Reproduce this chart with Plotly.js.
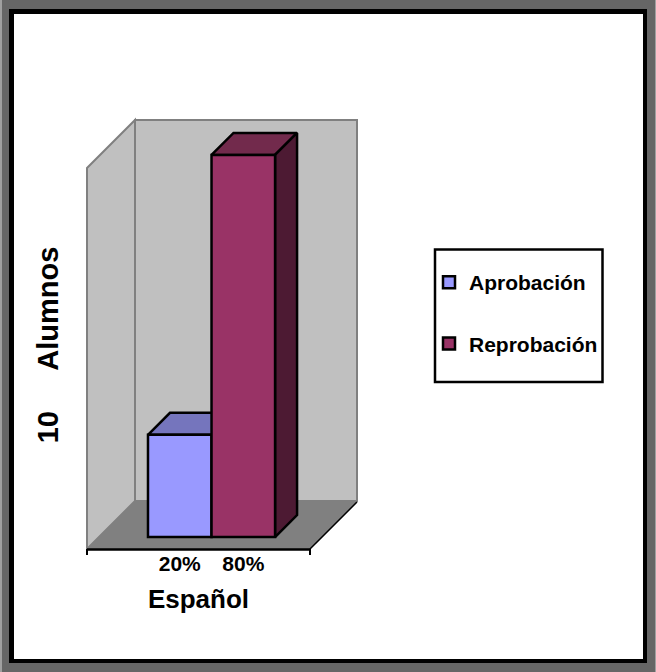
<!DOCTYPE html>
<html>
<head>
<meta charset="utf-8">
<script src="https://cdn.plot.ly/plotly-3.0.1.min.js"></script>
<style>html,body{margin:0;padding:0;background:#fff}</style>
</head>
<body>
<div id="chart" style="width:656px;height:672px"></div>
<script>
const seriesNames = ['Aprobación', 'Reprobación'];
const seriesValues = [21.4, 80];
const tickLabels = ['20%', '80%'];
const xTitle = 'Español';
const yTitle = '10\u00a0\u00a0\u00a0\u00a0\u00a0Alumnos';
const frontColors = ['#9999ff', '#993366'];
const topColors = ['#7575bd', '#722a4c'];
const sideColors = ['#4d4d80', '#4d1a33'];

const W = 656, H = 672;
const m = {l: 87, r: 346, t: 131, b: 113};
const pw = W - m.l - m.r, ph = H - m.t - m.b;
const xRange = [-1.46, 2.05];
const yRange = [-4.6, 85.0];
const depthX = 22 / (pw / (xRange[1] - xRange[0]));
const depthY = 22 / (ph / (yRange[1] - yRange[0]));
const FONT = 'Liberation Sans, Arial, sans-serif';

const px = x => (x - m.l) / pw;
const py = y => 1 - (y - m.t) / ph;
const path = pts => 'M' + pts.map(p => px(p[0]) + ',' + py(p[1])).join('L') + 'Z';
const rect = (x0, y0, x1, y1, color, lc, lw) => ({type: 'rect', xref: 'paper', yref: 'paper', layer: 'below',
  x0: px(x0), x1: px(x1), y0: py(y0), y1: py(y1), fillcolor: color, line: {width: lw || 0, color: lc || '#000'}});
const poly = (pts, fill, lc, lw) => ({type: 'path', xref: 'paper', yref: 'paper', layer: 'below',
  path: path(pts), fillcolor: fill, line: {color: lc, width: lw}});
const seg = (a, b, lc, lw) => ({type: 'line', xref: 'paper', yref: 'paper', layer: 'below',
  x0: px(a[0]), y0: py(a[1]), x1: px(b[0]), y1: py(b[1]), line: {color: lc, width: lw}});

const shapes = [
  rect(0, 0, W, H, '#666666'),
  rect(0, 0, 2, H, '#a0a0a0'),
  rect(W - 1, 0, W, H, '#a0a0a0'),
  rect(9, 9, 647, 663, '#000000'),
  rect(14, 14, 643, 659, '#ffffff'),
  poly([[135, 120], [357, 120], [357, 501], [135, 501]], '#c0c0c0', '#808080', 2),
  poly([[87, 168], [135, 120], [135, 501], [87, 549]], '#c0c0c0', '#808080', 2),
  poly([[87, 549], [135, 501], [357, 501], [310, 549]], '#808080', '#808080', 1),
  seg([310, 549], [357, 502], '#000000', 1.5),
  seg([87, 549.5], [310, 549.5], '#000000', 2.5),
  seg([87, 549], [87, 555], '#000000', 2),
  seg([310, 549], [310, 555], '#000000', 2),
  rect(435, 249.5, 602.5, 382, '#ffffff', '#000000', 2.5)
];

const traces = [];
seriesValues.forEach((v, i) => {
  const l = i - 0.5, r = i + 0.5;
  traces.push({type: 'scatter', mode: 'lines', fill: 'toself', showlegend: false, hoverinfo: 'skip',
    x: [l, l + depthX, r + depthX, r, l], y: [v, v + depthY, v + depthY, v, v],
    fillcolor: topColors[i], line: {color: '#000', width: 2.5}});
  traces.push({type: 'scatter', mode: 'lines', fill: 'toself', showlegend: false, hoverinfo: 'skip',
    x: [r, r + depthX, r + depthX, r, r], y: [0, depthY, v + depthY, v, 0],
    fillcolor: sideColors[i], line: {color: '#000', width: 2.5}});
});
seriesValues.forEach((v, i) => {
  traces.push({type: 'bar', name: seriesNames[i], legendgroup: seriesNames[i], x: [i], y: [v], width: 1, xaxis: 'x2', yaxis: 'y2',
    marker: {color: frontColors[i], line: {color: '#000', width: 2.5}}});
});

const layout = {
  width: W, height: H, margin: m, paper_bgcolor: 'rgba(0,0,0,0)', plot_bgcolor: 'rgba(0,0,0,0)',
  barmode: 'overlay', shapes: shapes,
  font: {family: FONT, color: '#000'},
  xaxis: {range: xRange, tickmode: 'array', tickvals: [0, 1], ticktext: tickLabels, showgrid: false, zeroline: false,
    showline: false, ticks: '', ticklen: 0, ticklabelstandoff: -10,
    tickfont: {family: FONT, size: 21, weight: 700},
    title: {text: xTitle, standoff: 15, font: {family: FONT, size: 26, weight: 700}}},
  yaxis: {range: yRange, showticklabels: false, ticks: '', showgrid: false, zeroline: false, showline: false, automargin: true,
    title: {text: yTitle, standoff: 18, font: {family: FONT, size: 29, weight: 700}}},
  xaxis2: {range: xRange, overlaying: 'x', visible: false},
  yaxis2: {range: yRange, overlaying: 'y', visible: false},
  legend: {x: px(429), y: py(262), xanchor: 'left', yanchor: 'top', bgcolor: 'rgba(0,0,0,0)',
    borderwidth: 0, tracegroupgap: 31, traceorder: 'grouped',
    font: {family: FONT, size: 21, weight: 700, color: '#000'}}
};
Plotly.newPlot('chart', traces, layout, {displayModeBar: false, responsive: false});
</script>
</body>
</html>
